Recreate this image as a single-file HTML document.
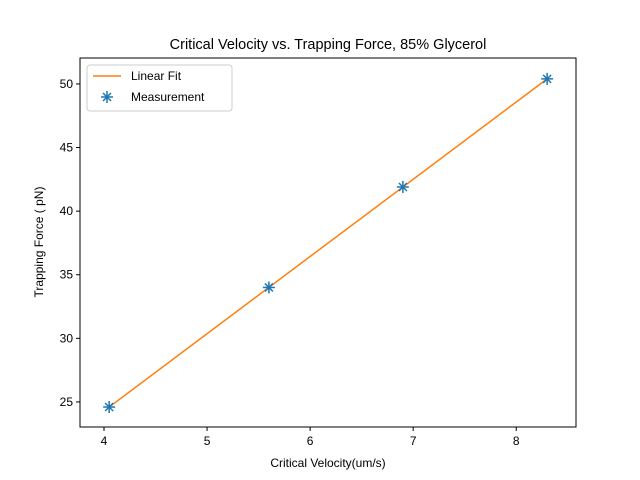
<!DOCTYPE html>
<html><head><meta charset="utf-8"><style>
html,body{margin:0;padding:0;background:#fff;}
svg{display:block;font-family:"Liberation Sans","DejaVu Sans",sans-serif;}
</style></head><body>
<svg id="chart" width="640" height="480" viewBox="0 0 640 480">
<rect width="640" height="480" fill="#fff"/>
<text x="328" y="49" font-size="14.5" text-anchor="middle">Critical Velocity vs. Trapping Force, 85% Glycerol</text>
<g id="plot"></g>
<text x="328" y="467" font-size="12" text-anchor="middle">Critical Velocity(um/s)</text>
<text transform="translate(43,242) rotate(-90)" font-size="12" text-anchor="middle">Trapping Force ( pN)</text>
</svg>
<script>
const velocities = [4.05, 5.6, 6.9, 8.3];
const forces = [24.6, 34.0, 41.9, 50.4];
const xTicks = [4, 5, 6, 7, 8];
const yTicks = [25, 30, 35, 40, 45, 50];

const L=80,R=576,T=58,B=427;
const xMin=3.767,xMax=8.58,yMin=23.03,yMax=52.04;
const sx=v=>L+(v-xMin)/(xMax-xMin)*(R-L);
const sy=v=>B-(v-yMin)/(yMax-yMin)*(B-T);
const NS="http://www.w3.org/2000/svg";
const g=document.getElementById('plot');
function mk(tag,attrs,parent){const e=document.createElementNS(NS,tag);for(const k in attrs)e.setAttribute(k,attrs[k]);(parent||g).appendChild(e);return e;}

// fit
const n=velocities.length;
const mx=velocities.reduce((a,b)=>a+b)/n, my=forces.reduce((a,b)=>a+b)/n;
let sxy=0,sxx=0;for(let i=0;i<n;i++){sxy+=(velocities[i]-mx)*(forces[i]-my);sxx+=(velocities[i]-mx)**2;}
const slope=sxy/sxx, icpt=my-slope*mx;
const x0=Math.min(...velocities),x1=Math.max(...velocities);
const fit=mk('line',{x1:sx(x0),y1:sy(slope*x0+icpt),x2:sx(x1),y2:sy(slope*x1+icpt),stroke:'#ff7f0e','stroke-width':1.5});



for(let i=0;i<n;i++){
  const cx=sx(velocities[i]),cy=sy(forces[i]);
  const m=mk('g',{stroke:'#1f77b4','stroke-width':1.5});
  
  
  mk('line',{x1:cx-6,y1:cy,x2:cx+6,y2:cy},m);
  mk('line',{x1:cx,y1:cy-6,x2:cx,y2:cy+6},m);
  mk('line',{x1:cx-4,y1:cy-4,x2:cx+4,y2:cy+4},m);
  mk('line',{x1:cx-4,y1:cy+4,x2:cx+4,y2:cy-4},m);
}

const frame=mk('rect',{x:L,y:T,width:R-L,height:B-T,fill:'none',stroke:'#000','stroke-width':1});



xTicks.forEach(t=>{
  const x=sx(t);
  mk('line',{x1:x,y1:B,x2:x,y2:B+4,stroke:'#000'});
  const tx=mk('text',{x:x,y:B+18,'font-size':12,'text-anchor':'middle'});tx.textContent=t;
  
  
});
yTicks.forEach(t=>{
  const y=sy(t);
  mk('line',{x1:L-4,y1:y,x2:L,y2:y,stroke:'#000'});
  const tx=mk('text',{x:L-7,y:y+4,'font-size':12,'text-anchor':'end'});tx.textContent=t;
  
  
});

// legend
const lg=mk('g',{});


mk('rect',{x:87,y:65,width:145,height:46,rx:3,fill:'#fff',stroke:'#ccc'},lg);
mk('line',{x1:93,y1:76,x2:121,y2:76,stroke:'#ff7f0e','stroke-width':1.5},lg);
const t1=mk('text',{x:131,y:80,'font-size':12},lg);t1.textContent='Linear Fit';


const lm=mk('g',{stroke:'#1f77b4','stroke-width':1.5},lg);
const lx=107,ly=97;
mk('line',{x1:lx-6,y1:ly,x2:lx+6,y2:ly},lm);
mk('line',{x1:lx,y1:ly-6,x2:lx,y2:ly+6},lm);
mk('line',{x1:lx-4,y1:ly-4,x2:lx+4,y2:ly+4},lm);
mk('line',{x1:lx-4,y1:ly+4,x2:lx+4,y2:ly-4},lm);
const t2=mk('text',{x:131,y:101,'font-size':12},lg);t2.textContent='Measurement';


</script>
</body></html>
